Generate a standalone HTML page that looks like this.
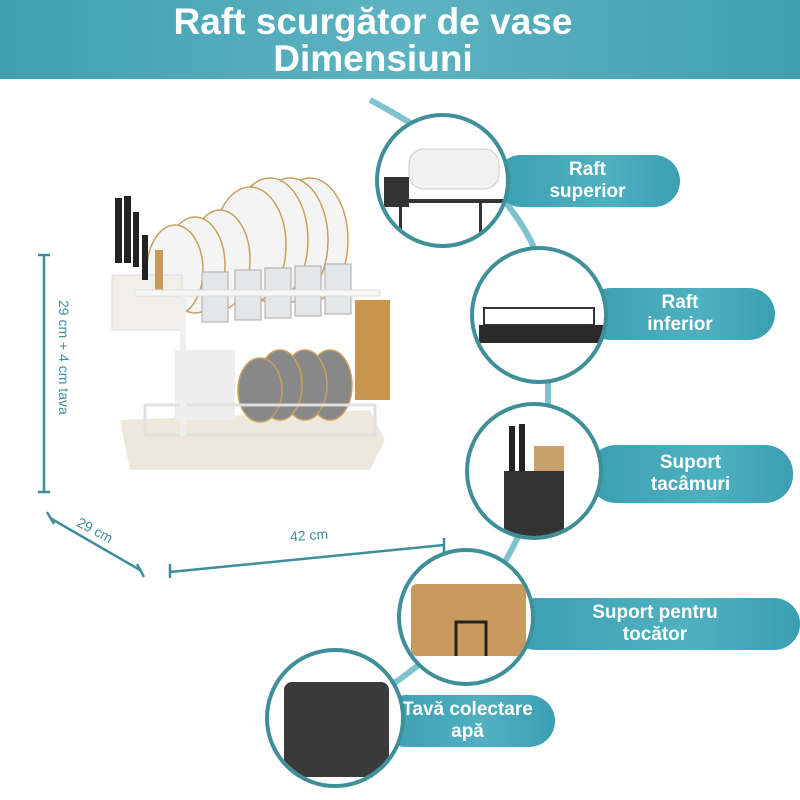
<!DOCTYPE html>
<html><head><meta charset="utf-8"><style>
body{margin:0;width:800px;height:800px;background:#fff;position:relative;overflow:hidden;font-family:"Liberation Sans",sans-serif}
.hdr{position:absolute;left:0;top:0;width:800px;height:79px;background:linear-gradient(90deg,#3f9fb0,#5db3c1,#3f9fb0)}
.t{position:absolute;width:746px;left:0;text-align:center;color:#fff;font-weight:bold;font-size:37px}
.c{position:absolute;border-radius:50%;border:4px solid #3f8f99;background:#fff;box-sizing:border-box;overflow:hidden}
.p{position:absolute;border-radius:28px;background:linear-gradient(90deg,#3a9fb2,#4fb0c0 60%,#3a9fb2);color:#fff;font-weight:bold;font-size:19px;text-align:center;line-height:22px;display:flex;align-items:center;justify-content:center}
.d{position:absolute;color:#3d8e9c;font-size:14px}
</style></head><body>
<div class="hdr"></div>
<div class="t" style="top:1px">Raft scurgător de vase</div>
<div class="t" style="top:38px">Dimensiuni</div>
<svg width="800" height="800" style="position:absolute;left:0;top:0">
<path d="M370 100 Q560 200 548 330 L548 420 Q540 520 480 600 Q420 680 335 715" fill="none" stroke="#7cc3cd" stroke-width="6"/>
<g stroke="#3d8e9c" stroke-width="2.5" fill="none">
<line x1="44" y1="255" x2="44" y2="492"/><line x1="38" y1="255" x2="50" y2="255"/><line x1="38" y1="492" x2="50" y2="492"/>
<line x1="50" y1="518" x2="140" y2="570"/><line x1="47" y1="512" x2="54" y2="524"/><line x1="137" y1="564" x2="144" y2="577"/>
<line x1="170" y1="572" x2="444" y2="545"/><line x1="170" y1="564" x2="170" y2="578"/><line x1="444" y1="538" x2="444" y2="552"/>
</g>
<!-- rack -->
<path d="M120 420 L370 410 L385 440 L370 470 L130 470 Z" fill="#eee8dc"/>
<rect x="355" y="300" width="35" height="100" fill="#c8954f"/>
<g fill="#f4f4f4" stroke="#c9a060" stroke-width="1.5">
<ellipse cx="310" cy="240" rx="38" ry="62"/><ellipse cx="290" cy="240" rx="38" ry="62"/><ellipse cx="270" cy="240" rx="38" ry="62"/><ellipse cx="250" cy="245" rx="36" ry="58"/>
<ellipse cx="220" cy="260" rx="30" ry="50"/><ellipse cx="195" cy="265" rx="30" ry="48"/><ellipse cx="175" cy="270" rx="28" ry="45"/>
</g>
<g fill="#888" stroke="#c9a060" stroke-width="1.5">
<ellipse cx="330" cy="385" rx="22" ry="35"/><ellipse cx="305" cy="385" rx="22" ry="35"/><ellipse cx="280" cy="385" rx="22" ry="35"/><ellipse cx="260" cy="390" rx="22" ry="32"/>
</g>
<rect x="175" y="350" width="60" height="70" fill="#eee"/>
<g fill="#e4e6e8" stroke="#aaa"><rect x="202" y="272" width="26" height="50"/><rect x="235" y="270" width="26" height="50"/><rect x="265" y="268" width="26" height="50"/><rect x="295" y="266" width="26" height="50"/><rect x="325" y="264" width="26" height="50"/></g>
<rect x="112" y="275" width="70" height="55" fill="#f2efe8" stroke="#ddd"/>
<g fill="#222"><rect x="115" y="198" width="7" height="65"/><rect x="124" y="196" width="7" height="67"/><rect x="133" y="212" width="6" height="55"/><rect x="142" y="235" width="6" height="45"/></g>
<rect x="155" y="250" width="8" height="45" fill="#c99a5e"/>
<rect x="135" y="290" width="245" height="6" fill="#f6f6f6" stroke="#ddd"/>
<rect x="145" y="405" width="230" height="30" fill="none" stroke="#e0e0e0" stroke-width="3"/>
<rect x="180" y="296" width="6" height="140" fill="#eee"/>
</svg>
<div class="d" style="top:300px;transform:rotate(90deg);transform-origin:left top;left:72px;white-space:nowrap">29 cm + 4 cm tava</div>
<div class="d" style="left:76px;top:522px;transform:rotate(28deg)">29 cm</div>
<div class="d" style="left:290px;top:527px;transform:rotate(-4deg)">42 cm</div>

<div class="p" style="left:495px;top:155px;width:185px;height:52px">Raft<br>superior</div>
<div class="c" style="left:375px;top:113px;width:135px;height:135px"><svg width="135" height="135"><g fill="#f2f2f2" stroke="#ccc"><rect x="30" y="32" width="90" height="40" rx="15"/></g><rect x="5" y="60" width="25" height="30" fill="#333"/><rect x="10" y="82" width="115" height="4" fill="#333"/><rect x="20" y="86" width="3" height="40" fill="#333"/><rect x="100" y="86" width="3" height="40" fill="#333"/></svg></div>
<div class="p" style="left:585px;top:288px;width:190px;height:52px">Raft<br>inferior</div>
<div class="c" style="left:470px;top:246px;width:138px;height:138px"><svg width="138" height="138"><rect x="5" y="75" width="125" height="18" fill="#2a2a2a"/><rect x="10" y="58" width="110" height="17" fill="none" stroke="#333" stroke-width="2"/></svg></div>
<div class="p" style="left:588px;top:445px;width:205px;height:58px">Suport<br>tacâmuri</div>
<div class="c" style="left:465px;top:402px;width:138px;height:138px"><svg width="138" height="138"><rect x="35" y="65" width="60" height="70" fill="#333"/><g fill="#222"><rect x="40" y="20" width="6" height="45"/><rect x="50" y="18" width="6" height="47"/></g><rect x="65" y="40" width="30" height="25" fill="#c9a06a"/></svg></div>
<div class="p" style="left:510px;top:598px;width:290px;height:52px">Suport pentru<br>tocător</div>
<div class="c" style="left:397px;top:548px;width:138px;height:138px"><svg width="138" height="138"><rect x="10" y="32" width="115" height="72" rx="6" fill="#c99a5e"/><path d="M55 104 V70 H85 V104" fill="none" stroke="#222" stroke-width="3"/></svg></div>
<div class="p" style="left:380px;top:695px;width:175px;height:52px">Tavă colectare<br>apă</div>
<div class="c" style="left:265px;top:648px;width:140px;height:140px"><svg width="140" height="140"><rect x="15" y="30" width="105" height="95" rx="8" fill="#3a3a3a"/></svg></div>
</body></html>
